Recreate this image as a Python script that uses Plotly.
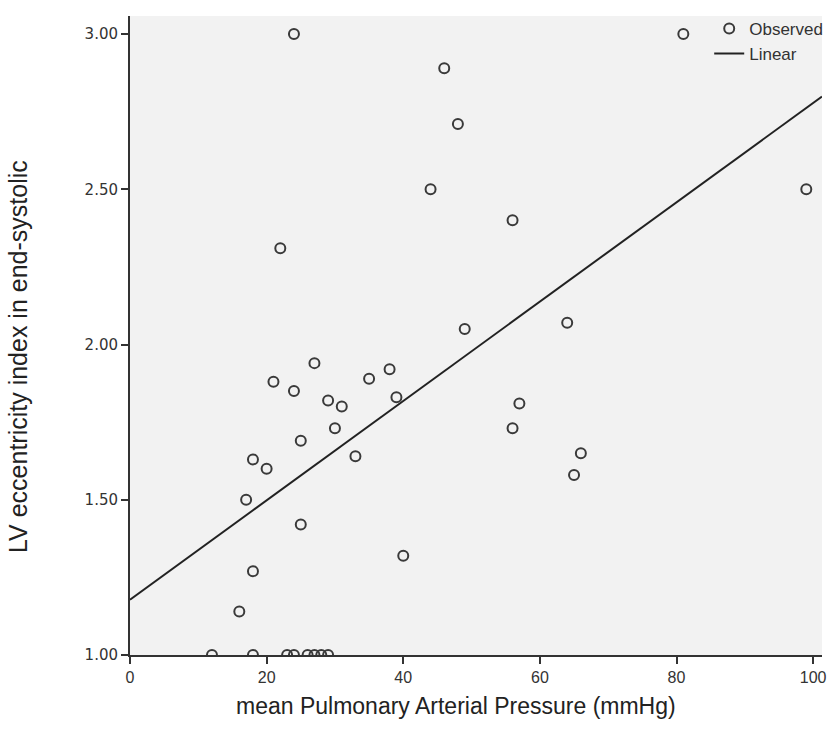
import plotly.graph_objects as go

# mean Pulmonary Arterial Pressure (mmHg)
mpap = [12, 18, 23, 24, 26, 27, 28, 29,
        16, 18, 40, 25, 17, 20, 18, 33, 25, 30, 29, 31, 39, 24, 35, 21, 38, 27,
        22, 44, 24, 46, 48, 56, 49, 64, 57, 56, 66, 65, 81, 99]
# LV eccentricity index in end-systolic
lv_ei = [1.00, 1.00, 1.00, 1.00, 1.00, 1.00, 1.00, 1.00,
         1.14, 1.27, 1.32, 1.42, 1.50, 1.60, 1.63, 1.64, 1.69, 1.73, 1.82, 1.80, 1.83, 1.85, 1.89, 1.88, 1.92, 1.94,
         2.31, 2.50, 3.00, 2.89, 2.71, 2.40, 2.05, 2.07, 1.81, 1.73, 1.65, 1.58, 3.00, 2.50]

fit_intercept = 1.178
fit_slope = 0.0160

x_ticks = [0, 20, 40, 60, 80, 100]
y_ticks = [1.00, 1.50, 2.00, 2.50, 3.00]
y_tick_labels = ["1.00", "1.50", "2.00", "2.50", "3.00"]

x_range = [0, 101.3]
y_range = [1.0, 3.058]

fit_x = x_range
fit_y = [fit_intercept + fit_slope * v for v in fit_x]

fig = go.Figure()
fig.add_trace(go.Scatter(
    x=mpap, y=lv_ei, mode="markers", name="Observed",
    marker=dict(symbol="circle-open", size=10, color="#3a3a3a", line=dict(width=2, color="#3a3a3a")),
    cliponaxis=True,
))
fig.add_trace(go.Scatter(
    x=fit_x, y=fit_y, mode="lines", name="Linear",
    line=dict(color="#222222", width=2),
))

font_family = "Liberation Sans, Arial, sans-serif"

fig.update_layout(
    width=827, height=729,
    margin=dict(l=130, r=5, t=16, b=74, autoexpand=False),
    paper_bgcolor="white",
    plot_bgcolor="#f2f2f2",
    font=dict(family=font_family, color="#333333", size=13),
    showlegend=True,
    legend=dict(
        x=0.837, y=1.008, xanchor="left", yanchor="top",
        bgcolor="rgba(0,0,0,0)", font=dict(size=17, color="#333333"),
        tracegroupgap=0, itemwidth=30,
    ),
    xaxis=dict(
        range=x_range, tickvals=x_ticks, showgrid=False, zeroline=False,
        showline=True, linecolor="#333333", linewidth=2,
        ticks="outside", ticklen=7, tickwidth=2, tickcolor="#333333",
        tickfont=dict(size=16, color="#333333"),
    ),
    yaxis=dict(
        range=y_range, tickvals=y_ticks, ticktext=y_tick_labels, showgrid=False, zeroline=False,
        showline=True, linecolor="#333333", linewidth=2,
        ticks="outside", ticklen=7, tickwidth=2, tickcolor="#333333",
        tickfont=dict(size=15, color="#333333", family="DejaVu Sans, sans-serif"),
    ),
    annotations=[
        dict(text="mean Pulmonary Arterial Pressure (mmHg)", xref="paper", yref="paper",
             x=(456 - 130) / 692, y=-(706 - 655) / 639, xanchor="center", yanchor="middle",
             showarrow=False, font=dict(size=23, color="#222222", family=font_family)),
        dict(text="LV eccentricity index in end-systolic", xref="paper", yref="paper",
             x=-(130 - 18) / 692, y=(655 - 357) / 639, xanchor="center", yanchor="middle",
             textangle=-90, showarrow=False, font=dict(size=25, color="#222222", family=font_family)),
    ],
)

fig.write_html("out.html", config={"displayModeBar": False},
               post_script="document.body.style.margin='0';document.body.style.padding='0';")
